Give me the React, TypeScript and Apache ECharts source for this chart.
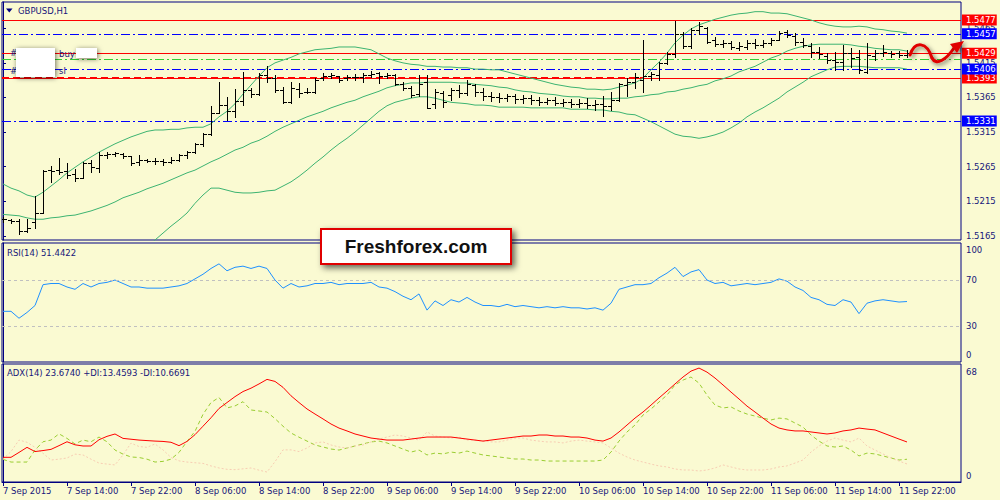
import React, { useEffect, useRef } from 'react';
import * as echarts from 'echarts';

// ---------- DATA ----------
const xTickIndex = [0, 8, 16, 24, 32, 40, 48, 56, 64, 72, 80, 88, 96, 104, 112];
const xTickLabels = ['7 Sep 2015', '7 Sep 14:00', '7 Sep 22:00', '8 Sep 06:00', '8 Sep 14:00', '8 Sep 22:00', '9 Sep 06:00', '9 Sep 14:00', '9 Sep 22:00', '10 Sep 06:00', '10 Sep 14:00', '10 Sep 22:00', '11 Sep 06:00', '11 Sep 14:00', '11 Sep 22:00'];
const priceTicks = [1.5165, 1.5215, 1.5265, 1.5315, 1.5365, 1.5415, 1.5465];
const rsiTicks = [0, 30, 70, 100];
const rsiLevels = [70, 30];
const adxTicks = [0, 68];

const opens = [1.5189, 1.5188, 1.5186, 1.5172, 1.5185, 1.5198, 1.5260, 1.5260, 1.5259, 1.5254,
  1.5248, 1.5270, 1.5263, 1.5282, 1.5283, 1.5283, 1.5280, 1.5272, 1.5275, 1.5273,
  1.5273, 1.5272, 1.5275, 1.5282, 1.5286, 1.5298, 1.5312, 1.5342, 1.5354, 1.5345,
  1.5360, 1.5376, 1.5370, 1.5397, 1.5393, 1.5376, 1.5358, 1.5377, 1.5373, 1.5373,
  1.5393, 1.5396, 1.5396, 1.5393, 1.5395, 1.5395, 1.5397, 1.5400, 1.5396, 1.5397,
  1.5384, 1.5379, 1.5370, 1.5387, 1.5356, 1.5371, 1.5369, 1.5376, 1.5371, 1.5383,
  1.5373, 1.5367, 1.5366, 1.5364, 1.5367, 1.5363, 1.5364, 1.5361, 1.5358, 1.5361,
  1.5357, 1.5358, 1.5356, 1.5357, 1.5354, 1.5356, 1.5353, 1.5361, 1.5383, 1.5387,
  1.5390, 1.5396, 1.5397, 1.5415, 1.5428, 1.5457, 1.5439, 1.5463, 1.5465, 1.5448,
  1.5442, 1.5444, 1.5437, 1.5438, 1.5444, 1.5441, 1.5444, 1.5448, 1.5460, 1.5454,
  1.5445, 1.5439, 1.5431, 1.5425, 1.5419, 1.5416, 1.5429, 1.5424, 1.5402, 1.5425,
  1.5429, 1.5429, 1.5429, 1.5426];
const highs = [1.5192, 1.5189, 1.5189, 1.5189, 1.5222, 1.5260, 1.5266, 1.5277, 1.5270, 1.5261,
  1.5272, 1.5275, 1.5286, 1.5286, 1.5286, 1.5285, 1.5280, 1.5282, 1.5276, 1.5277,
  1.5276, 1.5279, 1.5283, 1.5288, 1.5299, 1.5314, 1.5353, 1.5387, 1.5366, 1.5377,
  1.5402, 1.5379, 1.5400, 1.5410, 1.5397, 1.5380, 1.5387, 1.5386, 1.5379, 1.5393,
  1.5400, 1.5400, 1.5396, 1.5397, 1.5399, 1.5400, 1.5403, 1.5402, 1.5400, 1.5399,
  1.5387, 1.5382, 1.5397, 1.5397, 1.5377, 1.5374, 1.5379, 1.5383, 1.5390, 1.5384,
  1.5379, 1.5373, 1.5371, 1.5370, 1.5370, 1.5369, 1.5369, 1.5366, 1.5364, 1.5366,
  1.5363, 1.5363, 1.5363, 1.5364, 1.5361, 1.5367, 1.5373, 1.5386, 1.5393, 1.5400,
  1.5448, 1.5402, 1.5416, 1.5431, 1.5476, 1.5460, 1.5465, 1.5474, 1.5467, 1.5452,
  1.5448, 1.5447, 1.5445, 1.5448, 1.5450, 1.5448, 1.5451, 1.5461, 1.5463, 1.5458,
  1.5451, 1.5444, 1.5438, 1.5429, 1.5431, 1.5441, 1.5437, 1.5434, 1.5444, 1.5434,
  1.5441, 1.5432, 1.5432, 1.5434];
const lows = [1.5185, 1.5183, 1.5167, 1.5170, 1.5176, 1.5198, 1.5243, 1.5254, 1.5248, 1.5244,
  1.5248, 1.5257, 1.5257, 1.5277, 1.5280, 1.5277, 1.5267, 1.5267, 1.5272, 1.5269,
  1.5267, 1.5270, 1.5273, 1.5277, 1.5285, 1.5295, 1.5311, 1.5342, 1.5332, 1.5337,
  1.5354, 1.5366, 1.5369, 1.5387, 1.5373, 1.5357, 1.5357, 1.5366, 1.5371, 1.5371,
  1.5390, 1.5393, 1.5387, 1.5390, 1.5390, 1.5387, 1.5395, 1.5386, 1.5393, 1.5383,
  1.5376, 1.5366, 1.5367, 1.5350, 1.5350, 1.5351, 1.5361, 1.5366, 1.5369, 1.5367,
  1.5361, 1.5360, 1.5358, 1.5360, 1.5357, 1.5357, 1.5356, 1.5354, 1.5356, 1.5354,
  1.5353, 1.5351, 1.5351, 1.5350, 1.5347, 1.5338, 1.5347, 1.5360, 1.5367, 1.5379,
  1.5373, 1.5390, 1.5390, 1.5413, 1.5424, 1.5437, 1.5437, 1.5457, 1.5444, 1.5439,
  1.5438, 1.5435, 1.5434, 1.5435, 1.5437, 1.5438, 1.5441, 1.5448, 1.5452, 1.5441,
  1.5438, 1.5424, 1.5422, 1.5415, 1.5405, 1.5405, 1.5409, 1.5400, 1.5400, 1.5419,
  1.5425, 1.5424, 1.5424, 1.5424];
const closes = [1.5189, 1.5186, 1.5172, 1.5177, 1.5198, 1.5259, 1.5259, 1.5257, 1.5253, 1.5248,
  1.5270, 1.5264, 1.5282, 1.5283, 1.5285, 1.5280, 1.5270, 1.5275, 1.5273, 1.5273,
  1.5272, 1.5275, 1.5282, 1.5286, 1.5298, 1.5312, 1.5342, 1.5354, 1.5345, 1.5360,
  1.5376, 1.5370, 1.5397, 1.5393, 1.5376, 1.5358, 1.5379, 1.5371, 1.5373, 1.5390,
  1.5396, 1.5397, 1.5390, 1.5395, 1.5395, 1.5397, 1.5399, 1.5396, 1.5397, 1.5384,
  1.5379, 1.5369, 1.5384, 1.5350, 1.5373, 1.5358, 1.5376, 1.5371, 1.5384, 1.5373,
  1.5367, 1.5366, 1.5364, 1.5367, 1.5363, 1.5364, 1.5361, 1.5358, 1.5361, 1.5357,
  1.5358, 1.5356, 1.5357, 1.5354, 1.5356, 1.5353, 1.5361, 1.5384, 1.5387, 1.5395,
  1.5396, 1.5399, 1.5415, 1.5428, 1.5457, 1.5439, 1.5463, 1.5468, 1.5445, 1.5442,
  1.5444, 1.5438, 1.5439, 1.5444, 1.5441, 1.5444, 1.5448, 1.5458, 1.5455, 1.5445,
  1.5441, 1.5431, 1.5428, 1.5419, 1.5416, 1.5429, 1.5422, 1.5405, 1.5426, 1.5429,
  1.5431, 1.5428, 1.5426, 1.5429];

const bbUpper = [1.5240, 1.5234, 1.5230, 1.5224, 1.5221, 1.5228, 1.5237, 1.5246, 1.5256, 1.5264,
  1.5272, 1.5279, 1.5286, 1.5292, 1.5298, 1.5303, 1.5308, 1.5312, 1.5316, 1.5318,
  1.5318, 1.5319, 1.5319, 1.5321, 1.5322, 1.5322, 1.5327, 1.5337, 1.5345, 1.5356,
  1.5370, 1.5383, 1.5396, 1.5408, 1.5415, 1.5419, 1.5423, 1.5428, 1.5431, 1.5434,
  1.5435, 1.5436, 1.5438, 1.5438, 1.5438, 1.5436, 1.5434, 1.5428, 1.5422, 1.5418,
  1.5415, 1.5413, 1.5412, 1.5410, 1.5410, 1.5409, 1.5409, 1.5408, 1.5408, 1.5406,
  1.5406, 1.5405, 1.5405, 1.5402, 1.5399, 1.5396, 1.5393, 1.5390, 1.5387, 1.5384,
  1.5382, 1.5380, 1.5379, 1.5377, 1.5377, 1.5376, 1.5377, 1.5380, 1.5383, 1.5386,
  1.5393, 1.5405, 1.5416, 1.5429, 1.5444, 1.5455, 1.5464, 1.5470, 1.5474, 1.5478,
  1.5481, 1.5484, 1.5486, 1.5487, 1.5489, 1.5489, 1.5487, 1.5487, 1.5486, 1.5483,
  1.5480, 1.5477, 1.5473, 1.5470, 1.5468, 1.5467, 1.5467, 1.5468, 1.5467, 1.5464,
  1.5463, 1.5461, 1.5460, 1.5458];
const bbMiddle = [1.5196, 1.5195, 1.5194, 1.5191, 1.5189, 1.5189, 1.5191, 1.5192, 1.5194, 1.5195,
  1.5198, 1.5201, 1.5205, 1.5209, 1.5214, 1.5220, 1.5224, 1.5228, 1.5233, 1.5237,
  1.5241, 1.5246, 1.5251, 1.5256, 1.5260, 1.5266, 1.5272, 1.5277, 1.5283, 1.5289,
  1.5293, 1.5299, 1.5303, 1.5309, 1.5316, 1.5322, 1.5327, 1.5332, 1.5337, 1.5341,
  1.5345, 1.5350, 1.5354, 1.5358, 1.5361, 1.5366, 1.5370, 1.5374, 1.5379, 1.5382,
  1.5384, 1.5386, 1.5386, 1.5387, 1.5387, 1.5387, 1.5387, 1.5386, 1.5386, 1.5384,
  1.5383, 1.5382, 1.5380, 1.5379, 1.5376, 1.5374, 1.5373, 1.5371, 1.5370, 1.5369,
  1.5367, 1.5366, 1.5366, 1.5364, 1.5364, 1.5363, 1.5363, 1.5364, 1.5364, 1.5366,
  1.5367, 1.5369, 1.5370, 1.5373, 1.5374, 1.5377, 1.5379, 1.5382, 1.5384, 1.5389,
  1.5392, 1.5396, 1.5402, 1.5406, 1.5410, 1.5416, 1.5422, 1.5426, 1.5432, 1.5436,
  1.5439, 1.5441, 1.5442, 1.5442, 1.5442, 1.5442, 1.5441, 1.5439, 1.5438, 1.5436,
  1.5435, 1.5434, 1.5434, 1.5432];
const bbLower = [1.5153, 1.5156, 1.5157, 1.5157, 1.5157, 1.5150, 1.5144, 1.5139, 1.5131, 1.5126,
  1.5124, 1.5123, 1.5124, 1.5127, 1.5130, 1.5136, 1.5140, 1.5144, 1.5149, 1.5159,
  1.5169, 1.5179, 1.5188, 1.5198, 1.5212, 1.5224, 1.5234, 1.5234, 1.5231, 1.5228,
  1.5227, 1.5227, 1.5228, 1.5230, 1.5231, 1.5237, 1.5243, 1.5251, 1.5260, 1.5270,
  1.5279, 1.5289, 1.5298, 1.5306, 1.5315, 1.5325, 1.5335, 1.5345, 1.5353, 1.5358,
  1.5361, 1.5364, 1.5366, 1.5366, 1.5364, 1.5361, 1.5358, 1.5357, 1.5356, 1.5354,
  1.5354, 1.5353, 1.5351, 1.5351, 1.5351, 1.5351, 1.5350, 1.5350, 1.5350, 1.5350,
  1.5350, 1.5348, 1.5348, 1.5348, 1.5347, 1.5347, 1.5345, 1.5344, 1.5341, 1.5340,
  1.5335, 1.5330, 1.5324, 1.5318, 1.5312, 1.5309, 1.5308, 1.5306, 1.5308, 1.5311,
  1.5315, 1.5321, 1.5328, 1.5337, 1.5344, 1.5350, 1.5357, 1.5364, 1.5373, 1.5380,
  1.5387, 1.5395, 1.5400, 1.5405, 1.5409, 1.5410, 1.5410, 1.5410, 1.5409, 1.5408,
  1.5408, 1.5408, 1.5408, 1.5406];

const rsi = [43, 43, 37, 42, 48, 66, 67, 67, 64, 62,
  67, 64, 67, 68, 70, 67, 64, 64, 63, 63,
  63, 64, 65, 67, 71, 75, 80, 84, 78, 81,
  82, 80, 82, 80, 70, 63, 67, 64, 65, 67,
  67, 68, 66, 67, 67, 67, 68, 64, 63, 60,
  56, 53, 58, 44, 52, 48, 53, 51, 55, 51,
  48, 48, 47, 49, 47, 48, 47, 46, 47, 46,
  47, 46, 46, 45, 46, 44, 50, 62, 64, 66,
  66, 67, 72, 76, 81, 73, 77, 79, 70, 67,
  68, 65, 66, 67, 66, 67, 68, 71, 69, 64,
  61, 55, 53, 49, 48, 53, 51, 41, 50, 52,
  53, 52, 51, 51.4422];

const adx = [14.6, 14.6, 17.5, 20.5, 18.0, 18.6, 19.3, 21.5, 23.8, 22.0,
  21.3, 21.3, 25.0, 27.0, 28.4, 25.8, 25.3, 24.8, 24.5, 24.2,
  24.0, 23.5, 21.5, 24.0, 28.0, 33.0, 38.0, 43.5, 47.0, 50.5,
  53.5, 55.5, 58.0, 60.7, 59.5, 56.0, 51.0, 47.0, 43.2, 40.2,
  37.3, 34.3, 31.9, 30.2, 28.4, 27.2, 26.0, 25.4, 24.8, 24.8,
  24.8, 25.4, 26.0, 26.6, 26.6, 26.6, 26.6, 26.0, 25.4, 24.8,
  24.2, 24.8, 25.4, 26.0, 26.6, 27.2, 27.2, 27.8, 27.8, 27.2,
  27.2, 26.6, 26.6, 26.0, 24.8, 24.2, 26.0, 29.6, 33.7, 37.8,
  41.4, 45.5, 49.7, 53.8, 58.0, 62.1, 65.6, 67.4, 65.0, 61.5,
  57.4, 53.2, 49.1, 44.9, 41.4, 37.8, 34.3, 31.9, 30.8, 30.2,
  30.2, 29.6, 29.0, 28.4, 29.0, 30.2, 30.8, 31.9, 31.3, 30.8,
  29.0, 27.2, 25.4, 23.674];
const plusDI = [13.4, 11.8, 11.8, 11.8, 18.9, 23.8, 24.8, 28.5, 25.8, 22.5,
  24.8, 23.8, 26.6, 23.8, 18.9, 16.5, 14.8, 14.5, 13.5, 11.8,
  12.2, 13.5, 17.5, 24.0, 30.0, 40.0, 47.0, 50.0, 43.8, 45.0,
  47.5, 42.6, 42.0, 41.4, 37.5, 33.0, 29.0, 26.5, 24.2, 21.9,
  20.7, 19.5, 18.9, 20.1, 21.3, 22.5, 23.7, 24.2, 23.1, 21.3,
  19.5, 17.7, 18.9, 16.0, 17.1, 16.6, 17.7, 17.1, 18.3, 17.1,
  16.0, 15.4, 14.8, 14.2, 13.6, 13.6, 13.0, 13.0, 12.4, 12.4,
  12.4, 12.4, 12.4, 12.4, 12.4, 13.0, 17.7, 24.2, 29.6, 33.7,
  39.6, 43.2, 47.3, 51.4, 57.4, 60.3, 62.1, 58.5, 51.4, 45.5,
  43.8, 44.4, 42.0, 40.2, 39.0, 37.8, 36.7, 37.8, 37.3, 34.9,
  32.5, 27.8, 24.2, 21.3, 20.7, 21.3, 18.9, 15.4, 17.1, 16.6,
  15.4, 14.2, 13.0, 13.4593];
const minusDI = [13.5, 18.0, 24.8, 23.5, 20.5, 17.0, 13.0, 13.5, 14.2, 16.5,
  16.0, 13.5, 11.2, 10.6, 10.1, 16.0, 23.0, 21.0, 20.5, 22.5,
  19.0, 14.5, 12.5, 11.8, 11.4, 11.0, 9.5, 8.3, 7.5, 7.3,
  7.8, 8.3, 7.0, 5.9, 12.0, 19.0, 19.0, 18.0, 20.1, 23.1,
  23.7, 21.9, 20.7, 20.1, 21.3, 21.9, 23.7, 25.4, 26.6, 27.8,
  27.2, 26.0, 24.8, 29.6, 27.2, 26.6, 26.0, 26.6, 24.8, 24.8,
  24.2, 23.7, 23.7, 24.8, 26.0, 26.0, 24.8, 24.2, 23.7, 23.7,
  23.1, 24.2, 24.8, 24.2, 23.7, 23.1, 20.1, 17.1, 14.8, 13.0,
  11.8, 10.6, 9.5, 8.9, 7.7, 7.1, 7.1, 6.5, 7.1, 8.3,
  10.1, 8.9, 7.7, 7.1, 7.1, 7.1, 7.7, 8.9, 9.5, 11.2,
  13.0, 17.7, 21.3, 24.2, 26.0, 24.8, 23.7, 26.0, 21.3, 18.9,
  16.6, 14.2, 12.4, 10.6691];

const redLevels = [1.5477, 1.5429, 1.5393];
const blueLevels = [1.5457, 1.5406, 1.5331];
const greenLevel = 1.5420;
const zoneTop = 1.5457;
const zoneBottom = 1.5393;
const zoneStartIndex = 80;

// ---------- STYLE ----------
const BG = '#FAFAD2';
const NAVY = '#000080';
const TXT = '#16167a';
const FONT = 'Tahoma, "DejaVu Sans", sans-serif';
const FS = 8.5;
const X_MIN = -0.125;
const X_MAX = 119.75;

const priceLabel = (bg: string) => ({
  show: true,
  position: 'end',
  distance: 1,
  formatter: (p: any) => Number(p.value).toFixed(4),
  color: '#FFFFFF',
  backgroundColor: bg,
  padding: [1, 1, 0, 4],
  fontSize: FS,
  fontFamily: FONT,
  lineHeight: 10,
});

export default function App() {
  const ref = useRef<HTMLDivElement>(null);

  useEffect(() => {
    if (!ref.current) return;
    const chart = echarts.init(ref.current, null, { renderer: 'svg' });

    const ohlc = opens.map((o, i) => [i, o, highs[i], lows[i], closes[i]]);
    const toXY = (arr: number[]) => arr.map((v, i) => [i, v]);

    const renderBar = (_params: any, api: any) => {
      const i = api.value(0);
      const o = api.coord([i, api.value(1)]);
      const h = api.coord([i, api.value(2)]);
      const l = api.coord([i, api.value(3)]);
      const c = api.coord([i, api.value(4)]);
      const x = Math.round(o[0]) + 0.5;
      const yo = Math.round(o[1]) + 0.5;
      const yc = Math.round(c[1]) + 0.5;
      const yh = Math.round(h[1]);
      const yl = Math.round(l[1]) + 1;
      const st = { stroke: '#000000', lineWidth: 1 };
      return {
        type: 'group',
        children: [
          { type: 'line', shape: { x1: x, y1: yh, x2: x, y2: yl }, style: st },
          { type: 'line', shape: { x1: x - 3.5, y1: yo, x2: x, y2: yo }, style: st },
          { type: 'line', shape: { x1: x, y1: yc, x2: x + 3.5, y2: yc }, style: st },
        ],
      };
    };

    const levelLines: any[] = [];
    redLevels.forEach((p) => levelLines.push({ yAxis: p, lineStyle: { color: '#FF0000', width: 1, type: 'solid' }, label: priceLabel('#FF0000') }));
    blueLevels.forEach((p) => levelLines.push({ yAxis: p, lineStyle: { color: '#0000FF', width: 1, type: [9, 3, 2, 3] }, label: priceLabel('#0000FF') }));
    levelLines.push({ yAxis: greenLevel, lineStyle: { color: '#32CD32', width: 1, type: [9, 3, 2, 3] }, label: { show: false } });
    levelLines.push([
      { coord: [X_MIN, zoneBottom], lineStyle: { color: '#FF0000', width: 2, type: [7, 4] }, label: { show: false } },
      { coord: [zoneStartIndex, zoneBottom] },
    ]);
    levelLines.push([
      { coord: [zoneStartIndex, zoneTop], lineStyle: { color: '#3CB371', width: 1, type: 'solid', shadowBlur: 7, shadowColor: 'rgba(0,0,0,0.45)' }, label: { show: false } },
      { coord: [X_MAX, zoneTop] },
    ]);
    levelLines.push([
      { coord: [zoneStartIndex, zoneBottom], lineStyle: { color: '#000000', width: 3, type: [8, 2], shadowBlur: 7, shadowColor: 'rgba(0,0,0,0.45)' }, label: { show: false } },
      { coord: [X_MAX, zoneBottom] },
    ]);

    const axisLabelBase = { color: TXT, fontSize: FS, fontFamily: FONT };
    const edgeRich = {
      t: { padding: [9, 0, 0, 0], color: TXT, fontSize: FS, fontFamily: FONT },
      b: { padding: [0, 0, 13, 0], color: TXT, fontSize: FS, fontFamily: FONT },
    };

    const xAxisBase = (gridIndex: number) => ({
      type: 'value', gridIndex, min: X_MIN, max: X_MAX,
      splitLine: { show: false },
    });

    const option: any = {
      animation: false,
      backgroundColor: BG,
      grid: [
        { left: 2, top: 2, width: 959, height: 238, show: true, borderColor: NAVY, borderWidth: 1, backgroundColor: 'transparent' },
        { left: 2, top: 243, width: 959, height: 119, show: true, borderColor: NAVY, borderWidth: 1, backgroundColor: 'transparent' },
        { left: 2, top: 364, width: 959, height: 118, show: true, borderColor: NAVY, borderWidth: 1, backgroundColor: 'transparent' },
      ],
      xAxis: [
        { ...xAxisBase(0), show: false },
        { ...xAxisBase(1), show: false },
        {
          ...xAxisBase(2),
          axisLine: { show: true, lineStyle: { color: NAVY } },
          axisTick: { show: true, customValues: xTickIndex, length: 4, lineStyle: { color: NAVY } },
          axisLabel: {
            ...axisLabelBase, customValues: xTickIndex, align: 'left', margin: 4,
            formatter: (v: number) => { const k = xTickIndex.indexOf(v); return k >= 0 ? xTickLabels[k] : ''; },
          },
        },
      ],
      yAxis: [
        {
          type: 'value', gridIndex: 0, position: 'right', min: 1.5159, max: 1.5503,
          splitLine: { show: false },
          axisLine: { show: true, lineStyle: { color: NAVY } },
          axisTick: { show: true, customValues: priceTicks, length: 3, lineStyle: { color: NAVY } },
          axisLabel: { ...axisLabelBase, customValues: priceTicks, margin: 5, formatter: (v: number) => v.toFixed(4) },
        },
        {
          type: 'value', gridIndex: 1, position: 'right', min: -0.8, max: 102,
          splitLine: { show: false },
          axisLine: { show: true, lineStyle: { color: NAVY } },
          axisTick: { show: false },
          axisLabel: {
            ...axisLabelBase, customValues: rsiTicks, margin: 5,
            formatter: (v: number) => (v === 100 ? '{t|100}' : v === 0 ? '{b|0}' : String(v)),
            rich: edgeRich,
          },
        },
        {
          type: 'value', gridIndex: 2, position: 'right', min: 0, max: 69.8,
          splitLine: { show: false },
          axisLine: { show: true, lineStyle: { color: NAVY } },
          axisTick: { show: false },
          axisLabel: {
            ...axisLabelBase, customValues: adxTicks, margin: 5,
            formatter: (v: number) => (v === 68 ? '{t|68}' : v === 0 ? '{b|0}' : String(v)),
            rich: edgeRich,
          },
        },
      ],
      series: [
        {
          type: 'custom', name: 'GBPUSD', xAxisIndex: 0, yAxisIndex: 0, z: 5,
          renderItem: renderBar, data: ohlc, encode: { x: 0, y: [1, 2, 3, 4] }, clip: true,
        },
        {
          type: 'line', name: 'BB upper', xAxisIndex: 0, yAxisIndex: 0, data: toXY(bbUpper),
          symbol: 'none', lineStyle: { color: '#3CB371', width: 1 }, z: 3,
          markLine: { silent: true, symbol: ['none', 'none'], precision: 4, label: { show: false }, data: levelLines, z: 2 },
        },
        { type: 'line', name: 'BB middle', xAxisIndex: 0, yAxisIndex: 0, data: toXY(bbMiddle), symbol: 'none', lineStyle: { color: '#3CB371', width: 1 }, z: 3 },
        { type: 'line', name: 'BB lower', xAxisIndex: 0, yAxisIndex: 0, data: toXY(bbLower), symbol: 'none', lineStyle: { color: '#3CB371', width: 1 }, z: 3 },
        {
          type: 'line', name: 'RSI', xAxisIndex: 1, yAxisIndex: 1, data: toXY(rsi), symbol: 'none',
          lineStyle: { color: '#1E90FF', width: 1 },
          markLine: {
            silent: true, symbol: ['none', 'none'], label: { show: false },
            lineStyle: { color: '#C0C0C0', width: 1, type: [3, 3] },
            data: rsiLevels.map((v) => ({ yAxis: v })),
          },
        },
        { type: 'line', name: 'ADX', xAxisIndex: 2, yAxisIndex: 2, data: toXY(adx), symbol: 'none', lineStyle: { color: '#FF0000', width: 1 }, z: 4 },
        { type: 'line', name: '+DI', xAxisIndex: 2, yAxisIndex: 2, data: toXY(plusDI), symbol: 'none', lineStyle: { color: '#9ACD32', width: 1, type: [4, 3] }, z: 3 },
        { type: 'line', name: '-DI', xAxisIndex: 2, yAxisIndex: 2, data: toXY(minusDI), symbol: 'none', lineStyle: { color: '#F7CDB3', width: 1, type: [2, 2] }, z: 3 },
      ],
      graphic: [
        { type: 'polygon', z: 100, shape: { points: [[6, 8.5], [12.5, 8.5], [9.25, 12.5]] }, style: { fill: NAVY } },
        { type: 'text', z: 100, x: 18, y: 10.5, style: { text: 'GBPUSD,H1', fill: TXT, fontSize: FS, fontFamily: FONT, verticalAlign: 'middle' } },
        { type: 'text', z: 100, x: 7, y: 253, style: { text: `RSI(14) ${rsi[rsi.length - 1].toFixed(4)}`, fill: TXT, fontSize: FS, fontFamily: FONT, verticalAlign: 'middle' } },
        { type: 'text', z: 100, x: 7, y: 373, style: { text: `ADX(14) ${adx[adx.length - 1].toFixed(4)} +DI:${plusDI[plusDI.length - 1].toFixed(4)} -DI:${minusDI[minusDI.length - 1].toFixed(4)}`, fill: TXT, fontSize: FS, fontFamily: FONT, verticalAlign: 'middle' } },
        { type: 'text', z: 100, x: 10, y: 53, style: { text: '#', fill: TXT, fontSize: FS, fontFamily: FONT, verticalAlign: 'middle' } },
        { type: 'text', z: 100, x: 10, y: 70.5, style: { text: '#', fill: TXT, fontSize: FS, fontFamily: FONT, verticalAlign: 'middle' } },
        { type: 'text', z: 100, x: 59, y: 53.5, style: { text: 'buy', fill: TXT, fontSize: FS, fontFamily: FONT, verticalAlign: 'middle' } },
        { type: 'text', z: 100, x: 59, y: 71, style: { text: 'sl', fill: TXT, fontSize: FS, fontFamily: FONT, verticalAlign: 'middle' } },
        { type: 'rect', z: 101, shape: { x: 16, y: 48, width: 39, height: 29 }, style: { fill: '#FFFFFF', shadowBlur: 5, shadowColor: 'rgba(0,0,0,0.55)', shadowOffsetX: 1, shadowOffsetY: 1 } },
        { type: 'rect', z: 101, shape: { x: 76, y: 48, width: 21, height: 10 }, style: { fill: '#FFFFFF', shadowBlur: 5, shadowColor: 'rgba(0,0,0,0.55)', shadowOffsetX: 1, shadowOffsetY: 1 } },
        { type: 'rect', z: 102, shape: { x: 321, y: 229, width: 190, height: 35 }, style: { fill: '#FFFFFF', stroke: '#E00000', lineWidth: 2, shadowBlur: 6, shadowOffsetX: 3, shadowOffsetY: 3, shadowColor: 'rgba(0,0,0,0.6)' } },
        { type: 'text', z: 103, x: 416, y: 246.5, style: { text: 'Freshforex.com', fill: '#111111', fontSize: 19, fontWeight: 'bold', fontFamily: '"Liberation Sans", Arial, sans-serif', align: 'center', verticalAlign: 'middle' } },
        { type: 'bezierCurve', z: 104, shape: { x1: 910, y1: 55, cpx1: 915, cpy1: 40, cpx2: 927, cpy2: 42, x2: 932, y2: 58 }, style: { stroke: '#E00000', lineWidth: 3, fill: 'none', lineCap: 'round', shadowBlur: 4, shadowColor: 'rgba(0,0,0,0.5)', shadowOffsetX: 2, shadowOffsetY: 2 } },
        { type: 'bezierCurve', z: 104, shape: { x1: 932, y1: 58, cpx1: 936, cpy1: 66, cpx2: 946, cpy2: 60, x2: 954, y2: 48 }, style: { stroke: '#E00000', lineWidth: 3, fill: 'none', lineCap: 'round', shadowBlur: 4, shadowColor: 'rgba(0,0,0,0.5)', shadowOffsetX: 2, shadowOffsetY: 2 } },
        { type: 'polygon', z: 104, shape: { points: [[964, 41], [950, 44], [957, 53]] }, style: { fill: '#E00000', shadowBlur: 4, shadowColor: 'rgba(0,0,0,0.5)', shadowOffsetX: 2, shadowOffsetY: 2 } },
      ],
    };

    chart.setOption(option);
    return () => chart.dispose();
  }, []);

  return (
    <div style={{ position: 'fixed', left: 0, top: 0, width: 1000, height: 500, background: BG }}>
      <div ref={ref} style={{ width: 1000, height: 500 }} />
    </div>
  );
}
